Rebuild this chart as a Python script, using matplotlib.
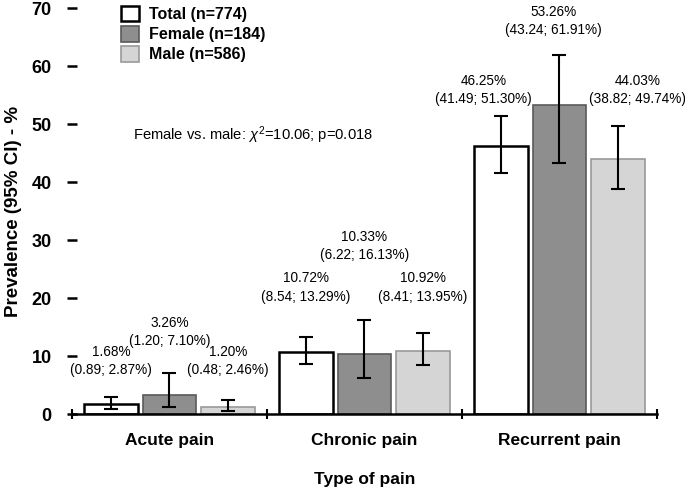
import numpy as np
import matplotlib.pyplot as plt

plt.rcParams['font.family'] = ['Liberation Sans', 'DejaVu Sans']
plt.rcParams['mathtext.fontset'] = 'custom'
plt.rcParams['mathtext.rm'] = 'Liberation Sans'
plt.rcParams['mathtext.it'] = 'Liberation Sans:italic'

# data
categories = ["Acute pain", "Chronic pain", "Recurrent pain"]
groups = ["Total (n=774)", "Female (n=184)", "Male (n=586)"]
total = [1.68, 10.72, 46.25]
total_lo = [0.89, 8.54, 41.49]
total_hi = [2.87, 13.29, 51.30]
female = [3.26, 10.33, 53.26]
female_lo = [1.20, 6.22, 43.24]
female_hi = [7.10, 16.13, 61.91]
male = [1.20, 10.92, 44.03]
male_lo = [0.48, 8.41, 38.82]
male_hi = [2.46, 13.95, 49.74]

# styling / layout
face = ["white", "#8e8e8e", "#d5d5d5"]
edge = ["black", "#5a5a5a", "#9a9a9a"]
offsets = [-0.3, 0.0, 0.3]
bar_width = 0.275
# label placement (data units) per group and category
label_y = [[9.1, 21.8, 55.8], [14.1, 28.9, 67.8], [9.1, 21.8, 55.8]]
label_dx = [[0, 0, -0.09], [0, 0, -0.03], [0, 0, 0.1]]

fig = plt.figure(figsize=(6.85, 4.88), dpi=100)
ax = fig.add_axes([0.105, 0.1516, 0.854, 0.832])

x = np.arange(len(categories))
series = [(total, total_lo, total_hi), (female, female_lo, female_hi), (male, male_lo, male_hi)]

handles = []
for i, (vals, lo, hi) in enumerate(series):
    vals = np.array(vals)
    yerr = [vals - np.array(lo), np.array(hi) - vals]
    b = ax.bar(x + offsets[i], vals, bar_width, color=face[i], edgecolor=edge[i],
               linewidth=1.8 if i == 0 else 1.2, label=groups[i], zorder=2)
    ax.errorbar(x + offsets[i], vals, yerr=yerr, fmt="none", ecolor="black",
                elinewidth=1.5, capsize=5, capthick=1.5, zorder=3)
    handles.append(b)
    for j in range(len(categories)):
        ax.text(x[j] + offsets[i] + label_dx[i][j], label_y[i][j],
                f"{vals[j]:.2f}%\n({lo[j]:.2f}; {hi[j]:.2f}%)",
                ha="center", va="center", fontsize=9.8, linespacing=1.38)

ax.set_xlim(-0.5, 2.5)
ax.set_ylim(0, 70)
ax.set_yticks(np.arange(0, 71, 10))
ax.set_xticks([-0.5, 0.5, 1.5, 2.5])
ax.set_xticklabels([])
ax.set_xticks(x, minor=True)
ax.set_xticklabels(categories, minor=True, fontsize=12.5, fontweight="bold")
ax.tick_params(axis="x", which="minor", length=0, pad=14)
ax.tick_params(axis="x", which="major", direction="inout", length=7, width=1.5)
ax.tick_params(axis="y", direction="inout", length=7, width=1.8, pad=11,
               labelsize=13)
for lab in ax.get_yticklabels():
    lab.set_fontweight("bold")

for s in ["top", "right", "left"]:
    ax.spines[s].set_visible(False)
ax.spines["bottom"].set_linewidth(1.8)

ax.set_xlabel("Type of pain", fontsize=12.5, fontweight="bold", labelpad=17)
ax.set_ylabel("Prevalence (95% CI) - %", fontsize=13.5, fontweight="bold", labelpad=7)

ax.text(0.104, 0.687, r"Female vs. male: $\chi^2$=10.06; p=0.018",
        transform=ax.transAxes, fontsize=10.6, va="center")

ax.legend(handles=handles, loc="upper left", bbox_to_anchor=(0.06, 1.04), frameon=False,
          prop={"weight": "bold", "size": 11.5}, handlelength=1.1, handleheight=1.1,
          handletextpad=0.6, labelspacing=0.25)

fig.savefig("out.png", dpi=100)
